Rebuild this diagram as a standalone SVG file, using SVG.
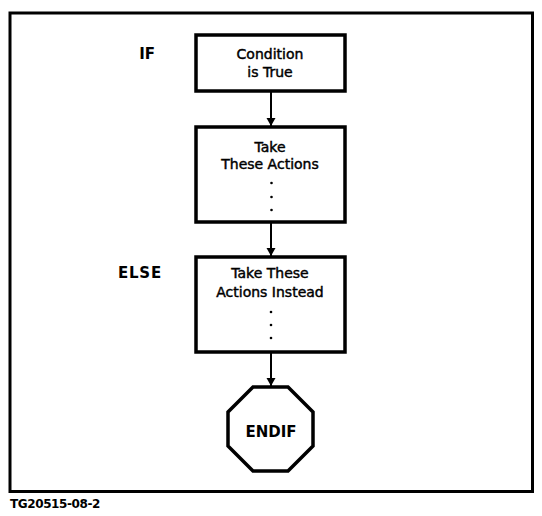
<svg xmlns="http://www.w3.org/2000/svg" width="542" height="516" viewBox="0 0 542 516">
<style>
.box{fill:#fff;stroke:#000;stroke-width:3.5}
.t{font-family:"DejaVu Sans",sans-serif;font-size:14px;fill:#000;text-anchor:middle;stroke:#000;stroke-width:0.45}
.lbl{font-family:"DejaVu Sans",sans-serif;font-size:15px;font-weight:bold;fill:#000;text-anchor:end}
.dot{fill:#000}
.conn line{stroke:#000;stroke-width:2}
</style>
<defs>
<marker id="ah" markerWidth="8" markerHeight="11" refX="8" refY="5" orient="auto" markerUnits="userSpaceOnUse">
<path d="M0,0.5 L8,5 L0,9.5 Z" fill="#000"/>
</marker>
</defs>
<rect x="0" y="0" width="542" height="516" fill="#fff"/>
<rect id="frame" x="10" y="13" width="522.5" height="478.5" fill="none" stroke="#000" stroke-width="3"/>
<text x="10" y="508" font-family="DejaVu Sans, sans-serif" font-size="12" font-weight="bold" fill="#000" letter-spacing="-0.4">TG20515-08-2</text>
<text class="lbl" x="155" y="59">IF</text>
<text class="lbl" x="162" y="278" letter-spacing="0.8">ELSE</text>
<g class="conn">
<line x1="271" y1="91" x2="271" y2="126" marker-end="url(#ah)"/>
<line x1="271" y1="222" x2="271" y2="256" marker-end="url(#ah)"/>
<line x1="271" y1="352" x2="271" y2="386" marker-end="url(#ah)"/>
</g>
<g id="n1">
<rect class="box" x="196" y="35" width="149" height="56"/>
<text class="t" x="270" y="59">Condition</text>
<text class="t" x="270" y="77">is True</text>
</g>
<g id="n2">
<rect class="box" x="196" y="127" width="149" height="95"/>
<text class="t" x="270" y="152">Take</text>
<text class="t" x="270" y="169">These Actions</text>
<circle class="dot" cx="271.5" cy="183" r="1.3"/>
<circle class="dot" cx="271.5" cy="197" r="1.3"/>
<circle class="dot" cx="271.5" cy="210" r="1.3"/>
</g>
<g id="n3">
<rect class="box" x="196" y="257" width="149" height="95"/>
<text class="t" x="270" y="278">Take These</text>
<text class="t" x="270" y="297">Actions Instead</text>
<circle class="dot" cx="271" cy="312" r="1.3"/>
<circle class="dot" cx="271" cy="325" r="1.3"/>
<circle class="dot" cx="271" cy="338" r="1.3"/>
</g>
<g id="n4">
<polygon class="box" points="253,387 288,387 313,412 313,446 288,471 253,471 228,446 228,412"/>
<text class="lbl" x="271" y="437" style="text-anchor:middle">ENDIF</text>
</g>
</svg>
